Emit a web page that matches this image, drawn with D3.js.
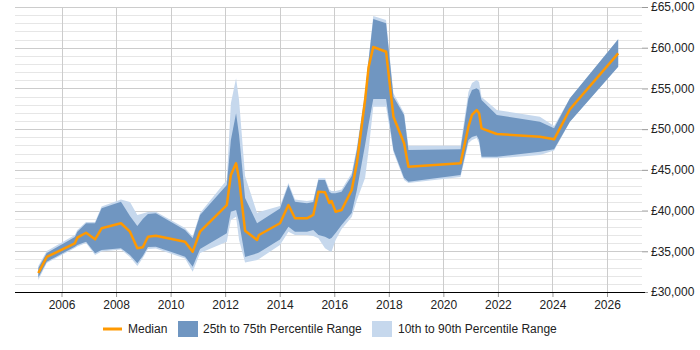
<!DOCTYPE html>
<html>
<head>
<meta charset="utf-8">
<script src="https://cdn.jsdelivr.net/npm/d3@7"></script>
<style>
  body { margin: 0; background: #fff; }
  svg { font-family: "Liberation Sans", Arial, sans-serif; }
</style>
</head>
<body>
<div id="content"></div>
<script>
// sample dates (decimal years) shared by all series
const dates = [2005.15, 2005.46, 2006.49, 2006.58, 2006.90, 2007.23, 2007.47, 2008.18, 2008.51, 2008.78,
  2008.98, 2009.17, 2009.46, 2010.53, 2010.81, 2011.08, 2012.06, 2012.21, 2012.40, 2012.51,
  2012.73, 2013.17, 2013.24, 2014.01, 2014.32, 2014.56, 2015.00, 2015.23, 2015.42, 2015.66,
  2015.82, 2015.90, 2016.05, 2016.27, 2016.64, 2016.83, 2017.13, 2017.26, 2017.43, 2017.90,
  2018.17, 2018.56, 2018.72, 2020.63, 2020.92, 2021.05, 2021.22, 2021.31, 2021.40, 2021.96,
  2023.54, 2024.06, 2024.64, 2026.41];

const median = [32330, 34300, 35980, 36670, 37280, 36470, 37820, 38440, 37410, 35370,
  35490, 36790, 36910, 36180, 34950, 37410, 40680, 44370, 45800, 43880,
  37530, 36390, 37000, 38440, 40680, 39050, 39050, 39460, 42320, 42240,
  40930, 41180, 39860, 40070, 42530, 45840, 53580, 57630, 60090, 59510,
  51530, 48260, 45390, 45800, 50300, 51740, 52350, 51950, 50100, 49400,
  49070, 48750, 52440, 59310];

const p25 = [31780, 33720, 35560, 35770, 36180, 34750, 35160, 35370, 34540, 33520,
  34420, 35530, 35560, 34340, 33110, 35280, 37210, 39860, 40070, 38600,
  34300, 34750, 34850, 36450, 38020, 37410, 37410, 37610, 37000, 36790,
  36510, 36630, 37250, 38230, 39700, 42530, 48050, 50630, 53700, 53700,
  47440, 44000, 43550, 44370, 48670, 49040, 49220, 48670, 46620, 46620,
  47230, 47520, 50910, 57670];

const p75 = [32950, 34790, 36750, 37410, 38440, 38440, 40280, 41090, 39330, 38110,
  38960, 39580, 39660, 37610, 36590, 39460, 43140, 48670, 51950, 49280,
  41540, 38440, 38600, 40250, 43140, 41090, 40890, 41050, 43750, 43750,
  42320, 42120, 42120, 42320, 44250, 47440, 54190, 58490, 63530, 63000,
  53980, 51740, 47440, 47520, 53790, 54810, 55020, 54810, 53580, 51740,
  50910, 50100, 53790, 61030];

const p10 = [31470, 33560, 35400, 35590, 36020, 34540, 34970, 35220, 34300, 33190,
  34180, 35280, 35340, 34110, 32490, 34790, 36180, 38840, 39250, 36390,
  33620, 33930, 34050, 35770, 37410, 37000, 37000, 36880, 36590, 35370,
  35040, 34950, 36390, 37740, 39210, 41300, 44000, 47440, 52760, 52760,
  47190, 43750, 43390, 44120, 48260, 48670, 48910, 48300, 46420, 46420,
  46820, 47380, 50910, 57670];

const p90 = [33190, 35040, 37000, 37610, 38600, 38600, 40500, 41360, 41050, 39460,
  39640, 39820, 39860, 37860, 36820, 39700, 43750, 53170, 56240, 53580,
  44250, 39700, 39820, 40560, 43390, 41360, 41180, 41300, 44000, 44000,
  42590, 42400, 42400, 42590, 44610, 47810, 54560, 58610, 63890, 63400,
  54400, 51980, 47970, 47970, 54560, 55670, 56040, 55790, 53950, 52350,
  51530, 50390, 53790, 61030];

const yearTicks = [2006, 2008, 2010, 2012, 2014, 2016, 2018, 2020, 2022, 2024, 2026];
const salaryTicks = [30000, 35000, 40000, 45000, 50000, 55000, 60000, 65000];
const legendLabels = ["Median", "25th to 75th Percentile Range", "10th to 90th Percentile Range"];

const width = 700;
const height = 350;
const plotLeft = 15;
const plotRight = 642;
const plotTop = 7;
const plotBottom = 292;

const rows = dates.map((d, i) => ({
  date: d, median: median[i], p25: p25[i], p75: p75[i], p10: p10[i], p90: p90[i]
}));

const svg = d3.select("#content")
  .append("svg")
  .attr("width", width)
  .attr("height", height);

const xScale = d3.scaleLinear()
  .domain([2004.295, 2027.283])
  .range([plotLeft, plotRight]);
const yScale = d3.scaleLinear()
  .domain([30000, 65000])
  .range([plotBottom, plotTop]);

// horizontal grid: light every 1000, darker every 5000
svg.append("g")
  .selectAll("line")
  .data(d3.range(30000, 65001, 1000).filter(v => v % 5000 !== 0))
  .enter()
  .append("line")
  .attr("x1", plotLeft).attr("x2", plotRight)
  .attr("y1", d => Math.round(yScale(d)) + 0.5).attr("y2", d => Math.round(yScale(d)) + 0.5)
  .attr("stroke", "#e6e6e6");

svg.append("g")
  .selectAll("line")
  .data(salaryTicks)
  .enter()
  .append("line")
  .attr("x1", plotLeft).attr("x2", plotRight)
  .attr("y1", d => Math.round(yScale(d)) + 0.5).attr("y2", d => Math.round(yScale(d)) + 0.5)
  .attr("stroke", "#cccccc");

// vertical grid
svg.append("g")
  .selectAll("line")
  .data(yearTicks)
  .enter()
  .append("line")
  .attr("x1", d => Math.round(xScale(d)) + 0.5).attr("x2", d => Math.round(xScale(d)) + 0.5)
  .attr("y1", plotTop).attr("y2", plotBottom)
  .attr("stroke", "#cccccc");

const outerArea = d3.area()
  .x(d => xScale(d.date))
  .y0(d => yScale(d.p10))
  .y1(d => yScale(d.p90));
const innerArea = d3.area()
  .x(d => xScale(d.date))
  .y0(d => yScale(d.p25))
  .y1(d => yScale(d.p75));
const medianLine = d3.line()
  .x(d => xScale(d.date))
  .y(d => yScale(d.median));

svg.append("path")
  .datum(rows)
  .attr("d", outerArea)
  .attr("fill", "#c6d8ed");

svg.append("path")
  .datum(rows)
  .attr("d", innerArea)
  .attr("fill", "#7096c1");

svg.append("path")
  .datum(rows)
  .attr("d", medianLine)
  .attr("fill", "none")
  .attr("stroke", "#ff9900")
  .attr("stroke-width", 2.5)
  .attr("stroke-linejoin", "round");

// axes
const xAxis = d3.axisBottom(xScale)
  .tickValues(yearTicks)
  .tickFormat(d3.format("d"))
  .tickSize(5);
const yAxis = d3.axisRight(yScale)
  .tickValues(salaryTicks)
  .tickFormat(d => "£" + d3.format(",")(d))
  .tickSize(6);

svg.append("g")
  .attr("transform", `translate(0, ${plotBottom})`)
  .call(xAxis)
  .call(g => g.select(".domain").remove())
  .call(g => g.selectAll("line").attr("stroke", "#999"))
  .call(g => g.selectAll("text").attr("font-size", 12).attr("fill", "#222").attr("font-family", null));

svg.append("g")
  .attr("transform", `translate(${plotRight}, 0)`)
  .call(yAxis)
  .call(g => g.select(".domain").remove())
  .call(g => g.selectAll("line").attr("stroke", "#999"))
  .call(g => g.selectAll("text").attr("font-size", 12).attr("fill", "#222").attr("font-family", null));

svg.append("line")
  .attr("x1", plotLeft).attr("x2", plotRight + 3)
  .attr("y1", plotBottom + 0.5).attr("y2", plotBottom + 0.5)
  .attr("stroke", "#000");

// legend
const legend = svg.append("g").attr("font-size", 12).attr("fill", "#222");
legend.append("line")
  .attr("x1", 103).attr("x2", 122).attr("y1", 329).attr("y2", 329)
  .attr("stroke", "#ff9900").attr("stroke-width", 3);
legend.append("text").attr("x", 128).attr("y", 333).text(legendLabels[0]);
legend.append("rect")
  .attr("x", 178).attr("y", 321).attr("width", 20).attr("height", 16)
  .attr("fill", "#7096c1");
legend.append("text").attr("x", 203).attr("y", 333).text(legendLabels[1]);
legend.append("rect")
  .attr("x", 372).attr("y", 321).attr("width", 20).attr("height", 16)
  .attr("fill", "#c6d8ed");
legend.append("text").attr("x", 398).attr("y", 333).text(legendLabels[2]);
</script>
</body>
</html>
